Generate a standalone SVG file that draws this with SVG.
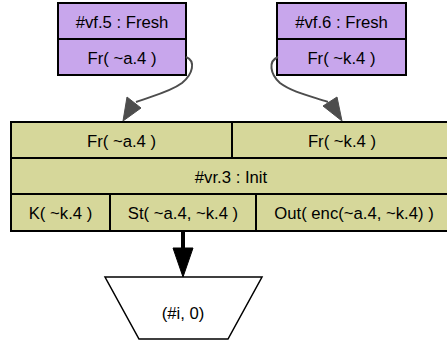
<svg xmlns="http://www.w3.org/2000/svg" width="447" height="351" viewBox="0 0 447 351">
<style>
text{font-family:"Liberation Sans",Arial,sans-serif;font-size:16.7px;fill:#000;text-anchor:middle}
.fresh{fill:#c8a6ec;stroke:#000;stroke-width:2}
.rule{fill:#d6d79a;stroke:#000;stroke-width:2}
.ln{stroke:#000;stroke-width:2;fill:none}
.edge{stroke:#4d4d4d;stroke-width:2;fill:none}
.head{fill:#4d4d4d;stroke:#4d4d4d;stroke-width:1}
</style>
<rect width="447" height="351" fill="#fff"/>
<g id="vf5">
<rect class="fresh" x="58" y="3" width="128" height="72"/>
<line class="ln" x1="58" y1="39" x2="186" y2="39"/>
<text x="122" y="27.5">#vf.5 : Fresh</text>
<text x="122" y="63.5">Fr( ~a.4 )</text>
</g>
<g id="vf6">
<rect class="fresh" x="277" y="3" width="129" height="72"/>
<line class="ln" x1="277" y1="39" x2="406" y2="39"/>
<text x="341.5" y="27.5">#vf.6 : Fresh</text>
<text x="341.5" y="63.5">Fr( ~k.4 )</text>
</g>
<g id="vr3">
<rect class="rule" x="11" y="122" width="445" height="109"/>
<line class="ln" x1="11" y1="158" x2="456" y2="158"/>
<line class="ln" x1="11" y1="194" x2="456" y2="194"/>
<line class="ln" x1="232" y1="122" x2="232" y2="158"/>
<line class="ln" x1="110" y1="194" x2="110" y2="231"/>
<line class="ln" x1="256" y1="194" x2="256" y2="231"/>
<text x="121.5" y="146.5">Fr( ~a.4 )</text>
<text x="342" y="146.5">Fr( ~k.4 )</text>
<text x="231" y="182.5">#vr.3 : Init</text>
<text x="60.5" y="218.5">K( ~k.4 )</text>
<text x="183" y="218.5">St( ~a.4, ~k.4 )</text>
<text x="354" y="218.5">Out( enc(~a.4, ~k.4) )</text>
</g>
<g id="goal">
<polygon points="105,277 262,277 228,339 139,339" fill="#fff" stroke="#000" stroke-width="1.5"/>
<text x="183" y="319">(#i, 0)</text>
</g>
<g id="edges">
<path class="edge" d="M186,57 C196,61 193,74 182,83 C170,92 152,96 136,102"/>
<polygon class="head" points="123,121 127,97 141,108"/>
<path class="edge" d="M278,57 C268,61 270,74 280,83 C292,92 310,96 328,102"/>
<polygon class="head" points="342,121 323,106 337,97"/>
<line x1="183" y1="231" x2="183" y2="250" stroke="#000" stroke-width="4"/>
<polygon points="173,248 193,248 183,277" fill="#000" stroke="#000" stroke-width="1"/>
</g>
</svg>
